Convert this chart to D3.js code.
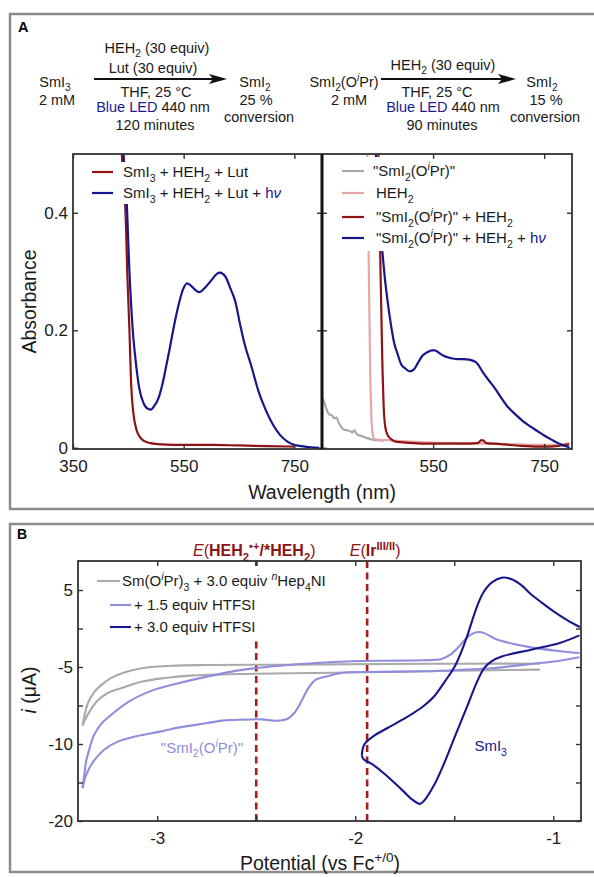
<!DOCTYPE html>
<html>
<head>
<meta charset="utf-8">
<script src="https://cdn.jsdelivr.net/npm/d3@7"></script>
<style>
  body { margin: 0; background: #fff; }
  svg { display: block; font-family: "Liberation Sans", Arial, sans-serif; }
  .axis line { stroke: #333; stroke-width: 1.4; }
  .axis text { font-family: "Liberation Sans", Arial, sans-serif; font-size: 17px; fill: #1a1a1a; }
</style>
</head>
<body>
<svg id="fig" width="594" height="877"></svg>
<script>
// colours
var RED = '#8c1414', NAVY = '#17178c', GRAY = '#aaaaaa', PINK = '#e6a6a6', PURPLE = '#8e8edc', EDASH = '#a31d1d';

// ---- Panel A data: wavelength (nm) / absorbance ----
// left: SmI3 + HEH2 + Lut
var wlRedL  = [437, 440, 443.5, 446, 448, 450, 452, 455, 459, 465, 472, 480, 490, 510, 550, 600, 650, 700, 750];
var absRedL = [0.52, 0.47, 0.43, 0.37, 0.30, 0.25, 0.20, 0.11, 0.06, 0.03, 0.017, 0.011, 0.008, 0.006, 0.005, 0.005, 0.004, 0.003, 0.002];
// left: SmI3 + HEH2 + Lut + hv
var wlBlueL  = [440, 442, 446.5, 452, 458, 463, 470, 478, 486, 491, 496, 505, 512, 518, 525, 531, 540, 549, 556, 562, 572, 578, 588, 600, 610, 615, 625, 635, 643, 652, 660, 672, 685, 698, 711, 724, 737, 750, 763, 780, 795];
var absBlueL = [0.52, 0.49, 0.43, 0.30, 0.20, 0.15, 0.10, 0.075, 0.066, 0.065, 0.07, 0.086, 0.11, 0.137, 0.17, 0.20, 0.24, 0.27, 0.28, 0.277, 0.268, 0.265, 0.272, 0.285, 0.296, 0.298, 0.292, 0.27, 0.25, 0.21, 0.177, 0.14, 0.097, 0.065, 0.04, 0.022, 0.011, 0.005, 0.003, 0.001, 0.0];
// right: "SmI2(OiPr)"
var wlGrayR  = [350, 354, 358, 363, 368, 372, 376, 380, 385, 389, 395, 401, 405, 408, 412, 421, 430, 440, 450, 462];
var absGrayR = [0.085, 0.078, 0.066, 0.057, 0.055, 0.05, 0.052, 0.043, 0.035, 0.031, 0.03, 0.028, 0.026, 0.03, 0.024, 0.02, 0.017, 0.014, 0.013, 0.012];
// right: HEH2
var wlPinkR  = [431, 433, 435, 437, 439, 441, 444, 450, 470, 500, 550, 600, 650, 700, 750, 780, 795];
var absPinkR = [0.52, 0.40, 0.25, 0.12, 0.05, 0.025, 0.015, 0.014, 0.013, 0.011, 0.009, 0.008, 0.007, 0.006, 0.005, 0.006, 0.008];
// right: "SmI2(OiPr)" + HEH2
var wlRedR  = [451, 453, 455, 457, 459, 461, 464, 468, 473, 485, 500, 550, 600, 630, 637, 641, 646, 660, 700, 740, 760, 780, 795];
var absRedR = [0.52, 0.42, 0.32, 0.22, 0.13, 0.07, 0.035, 0.022, 0.016, 0.01, 0.009, 0.007, 0.007, 0.008, 0.013, 0.012, 0.008, 0.007, 0.004, 0.002, 0.002, 0.004, 0.006];
// right: "SmI2(OiPr)" + HEH2 + hv
var wlBlueR  = [446, 449, 452, 456, 459, 463, 468, 474, 480, 486, 492, 500, 508, 515, 523, 531, 540, 548, 553, 560, 568, 576, 585, 595, 605, 615, 627, 640, 650, 660, 672, 685, 698, 711, 724, 737, 750, 763, 775, 785, 795];
var absBlueR = [0.52, 0.46, 0.41, 0.36, 0.33, 0.29, 0.25, 0.21, 0.178, 0.16, 0.143, 0.135, 0.13, 0.133, 0.145, 0.157, 0.163, 0.166, 0.166, 0.162, 0.157, 0.154, 0.152, 0.151, 0.151, 0.15, 0.146, 0.128, 0.115, 0.103, 0.086, 0.069, 0.057, 0.046, 0.037, 0.029, 0.021, 0.014, 0.008, 0.004, 0.001];

var xTicksA = [350, 550, 750];
var yTicksA = [0, 0.2, 0.4];

// ---- Panel B data: potential (V vs Fc) / current (uA) ----
var grayUpE = [-3.377, -3.368, -3.35, -3.322, -3.286, -3.232, -3.159, -3.069, -2.924, -2.743, -2.38, -1.837, -1.475, -1.067];
var grayUpI = [-8.79, -8.2, -7.34, -6.69, -6.21, -5.71, -5.32, -5.06, -4.83, -4.74, -4.7, -4.61, -4.57, -4.57];
var grayDnE = [-1.067, -1.475, -1.837, -2.199, -2.562, -2.833, -2.96, -3.069, -3.178, -3.25, -3.304, -3.341, -3.368, -3.377];
var grayDnI = [-5.17, -5.24, -5.32, -5.39, -5.45, -5.56, -5.71, -5.93, -6.36, -6.69, -7.23, -7.88, -8.53, -8.79];

var purpUpE = [-3.377, -3.368, -3.359, -3.341, -3.322, -3.286, -3.232, -3.141, -3.014, -2.924, -2.743, -2.562, -2.38, -2.199, -2.018, -1.837, -1.656, -1.565, -1.52, -1.475, -1.438, -1.402, -1.375, -1.348, -1.294, -1.221, -1.112, -0.986, -0.868];
var purpUpI = [-15.74, -14.0, -12.26, -10.52, -9.5, -8.74, -8.1, -7.23, -6.47, -6.15, -5.61, -5.17, -4.83, -4.48, -4.26, -4.18, -4.13, -3.96, -3.4, -2.32, -1.23, -0.6, -0.45, -0.6, -1.32, -1.88, -2.45, -2.88, -3.18];
var purpDnE = [-0.868, -0.967, -1.112, -1.294, -1.475, -1.656, -1.928, -2.072, -2.145, -2.199, -2.236, -2.272, -2.308, -2.344, -2.38, -2.417, -2.471, -2.562, -2.67, -2.797, -2.888, -2.978, -3.105, -3.196, -3.268, -3.322, -3.359, -3.377];
var purpDnI = [-3.74, -4.18, -4.61, -5.06, -5.19, -5.28, -5.32, -5.39, -5.61, -5.82, -6.36, -7.23, -7.99, -8.38, -8.48, -8.48, -8.4, -8.42, -8.48, -8.74, -8.92, -9.18, -9.5, -9.83, -10.74, -12.26, -14.0, -15.74];

var blueDnE = [-0.868, -0.967, -1.112, -1.257, -1.312, -1.348, -1.384, -1.438, -1.493, -1.547, -1.601, -1.656, -1.674, -1.71, -1.764, -1.837, -1.909, -1.955, -1.967];
var blueDnI = [-0.89, -1.88, -2.75, -3.61, -4.26, -5.06, -5.93, -7.66, -9.39, -12.26, -15.3, -17.48, -17.78, -17.26, -15.96, -14.22, -12.7, -12.04, -11.5];
var blueUpE = [-1.967, -1.955, -1.909, -1.837, -1.746, -1.656, -1.601, -1.547, -1.493, -1.438, -1.41, -1.38, -1.35, -1.31, -1.26, -1.21, -1.16, -1.117, -1.06, -1.0, -0.93, -0.866];
var blueUpI = [-11.5, -10.09, -9.5, -8.96, -8.31, -7.55, -6.9, -5.93, -4.7, -1.23, 1.0, 3.2, 4.8, 6.0, 6.6, 6.4, 5.6, 4.55, 3.4, 2.27, 1.1, 0.2];

var ePotentials = [-2.5, -1.94];
var xTicksB = [-3, -2.5, -2, -1.5, -1];
var yTicksB = [5, 0, -5, -7.5, -10, -15, -20];
var yTickTextB = ['5', '', '-5', '', '-10', '', '-20'];

// ---- helpers ----
var svg = d3.select('#fig');
function zip(a, b) { return a.map(function(v, i) { return [v, b[i]]; }); }

// text with sub/superscripts, parts are strings or {t, sub, sup, i, b, c}
function richText(parent, x, y, parts, size, anchor, fill) {
  var t = parent.append('text').attr('x', x).attr('y', y)
    .attr('font-size', size).attr('text-anchor', anchor || 'start')
    .attr('fill', fill || '#1a1a1a');
  var shift = 0;
  parts.forEach(function(p) {
    if (typeof p === 'string') p = {t: p};
    var target = p.sub ? 0.3 * size : (p.sup ? -0.4 * size : 0);
    var ts = t.append('tspan').attr('dy', target - shift).text(p.t);
    shift = target;
    if (p.sub || p.sup) ts.attr('font-size', size * 0.7);
    if (p.i) ts.attr('font-style', 'italic');
    if (p.b) ts.attr('font-weight', 'bold');
    if (p.c) ts.attr('fill', p.c);
  });
  return t;
}

function arrow(g, x1, x2, y) {
  g.append('line').attr('x1', x1).attr('x2', x2 - 12).attr('y1', y).attr('y2', y)
    .attr('stroke', '#111').attr('stroke-width', 1.8);
  g.append('path').attr('d', 'M' + x2 + ',' + y + 'L' + (x2 - 18) + ',' + (y - 5) + 'L' + (x2 - 14) + ',' + y + 'L' + (x2 - 18) + ',' + (y + 5) + 'Z')
    .attr('fill', '#111');
}

// panel boxes
svg.append('rect').attr('x', 10).attr('y', 14).attr('width', 590).attr('height', 495)
  .attr('fill', 'none').attr('stroke', '#8c8c8c').attr('stroke-width', 2.5);
svg.append('rect').attr('x', 10).attr('y', 524).attr('width', 590).attr('height', 348)
  .attr('fill', 'none').attr('stroke', '#8c8c8c').attr('stroke-width', 2.5);
svg.append('text').attr('x', 18).attr('y', 32).attr('font-size', 14.5).attr('font-weight', 'bold').text('A');
svg.append('text').attr('x', 17).attr('y', 539).attr('font-size', 14).attr('font-weight', 'bold').text('B');

// ---- Panel A scheme ----
var sch = svg.append('g');
var fs = 14.5;
var iPr = [{t: '(O'}, {t: 'i', sup: true, i: true}, {t: 'Pr)'}];
richText(sch, 157, 53, ['HEH', {t: '2', sub: true}, ' (30 equiv)'], fs, 'middle');
richText(sch, 153, 73, ['Lut (30 equiv)'], fs, 'middle');
arrow(sch, 94, 227, 79);
richText(sch, 55, 87, ['SmI', {t: '3', sub: true}], fs, 'middle');
richText(sch, 57, 105, ['2 mM'], fs, 'middle');
richText(sch, 156, 97, ['THF, 25 °C'], fs, 'middle');
richText(sch, 153, 112, [{t: 'Blue LED', c: '#1c1c90'}, ' 440 nm'], fs, 'middle');
richText(sch, 155, 130, ['120 minutes'], fs, 'middle');
richText(sch, 255, 87, ['SmI', {t: '2', sub: true}], fs, 'middle');
richText(sch, 256, 105, ['25 %'], fs, 'middle');
richText(sch, 259, 122, ['conversion'], fs, 'middle');

richText(sch, 344, 87, ['SmI', {t: '2', sub: true}].concat(iPr), fs, 'middle');
richText(sch, 349, 105, ['2 mM'], fs, 'middle');
arrow(sch, 381, 516, 79);
richText(sch, 443, 70, ['HEH', {t: '2', sub: true}, ' (30 equiv)'], fs, 'middle');
richText(sch, 437, 97, ['THF, 25 °C'], fs, 'middle');
richText(sch, 443, 112, [{t: 'Blue LED', c: '#1c1c90'}, ' 440 nm'], fs, 'middle');
richText(sch, 442, 130, ['90 minutes'], fs, 'middle');
richText(sch, 542, 87, ['SmI', {t: '2', sub: true}], fs, 'middle');
richText(sch, 546, 105, ['15 %'], fs, 'middle');
richText(sch, 545, 122, ['conversion'], fs, 'middle');

// ---- Panel A plots ----
var aTop = 154, aBot = 449, aL = 73, aMid = 322, aR = 572;
var xL = d3.scaleLinear().domain([350, 800]).range([aL, aMid]);
var xR = d3.scaleLinear().domain([350, 800]).range([aMid, aR]);
var yA = d3.scaleLinear().domain([-0.002, 0.5]).range([aBot, aTop]);

var defs = svg.append('defs');
defs.append('clipPath').attr('id', 'clipAL').append('rect')
  .attr('x', aL).attr('y', aTop).attr('width', aMid - aL).attr('height', aBot - aTop);
defs.append('clipPath').attr('id', 'clipAR').append('rect')
  .attr('x', aMid).attr('y', aTop).attr('width', aR - aMid).attr('height', aBot - aTop);

function specLine(x) {
  return d3.line().x(function(d) { return x(d[0]); }).y(function(d) { return yA(d[1]); }).curve(d3.curveMonotoneX);
}
var gAL = svg.append('g').attr('clip-path', 'url(#clipAL)');
[[wlRedL, absRedL, RED], [wlBlueL, absBlueL, NAVY]].forEach(function(s) {
  gAL.append('path').attr('d', specLine(xL)(zip(s[0], s[1])))
    .attr('fill', 'none').attr('stroke', s[2]).attr('stroke-width', 2.2);
});
var gAR = svg.append('g').attr('clip-path', 'url(#clipAR)');
[[wlGrayR, absGrayR, GRAY], [wlPinkR, absPinkR, PINK], [wlRedR, absRedR, RED], [wlBlueR, absBlueR, NAVY]].forEach(function(s) {
  gAR.append('path').attr('d', specLine(xR)(zip(s[0], s[1])))
    .attr('fill', 'none').attr('stroke', s[2]).attr('stroke-width', 2.2);
});

// legends (white backgrounds hide the curves behind)
var legAL = svg.append('g');
legAL.append('rect').attr('x', 85).attr('y', 162).attr('width', 192).attr('height', 42).attr('fill', '#fff');
var hv = [{t: 'h', c: NAVY}, {t: 'ν', c: NAVY, i: true}];
var legAItems = [
  [RED, ['SmI', {t: '3', sub: true}, ' + HEH', {t: '2', sub: true}, ' + Lut']],
  [NAVY, ['SmI', {t: '3', sub: true}, ' + HEH', {t: '2', sub: true}, ' + Lut + '].concat(hv)]
];
legAItems.forEach(function(it, i) {
  var y = 172 + i * 21;
  legAL.append('line').attr('x1', 92).attr('x2', 113).attr('y1', y).attr('y2', y)
    .attr('stroke', it[0]).attr('stroke-width', 2.2);
  richText(legAL, 123, y + 5, it[1], 15);
});

var legAR = svg.append('g');
legAR.append('rect').attr('x', 335).attr('y', 157).attr('width', 232).attr('height', 94).attr('fill', '#fff');
var smOiPr = ['"SmI', {t: '2', sub: true}, '(O', {t: 'i', sup: true, i: true}, 'Pr)"'];
var legARItems = [
  [GRAY, smOiPr, 373],
  [PINK, ['HEH', {t: '2', sub: true}], 376],
  [RED, smOiPr.concat([' + HEH', {t: '2', sub: true}]), 376],
  [NAVY, smOiPr.concat([' + HEH', {t: '2', sub: true}, ' + ']).concat(hv), 376]
];
var legARy = [171, 193, 217, 238];
legARItems.forEach(function(it, i) {
  var y = legARy[i];
  legAR.append('line').attr('x1', 342).attr('x2', 364).attr('y1', y).attr('y2', y)
    .attr('stroke', it[0]).attr('stroke-width', 2.2);
  richText(legAR, it[2], y + 5, it[1], 15);
});

// axes A
function styleAxis(g) { g.attr('class', 'axis'); g.select('.domain').remove(); return g; }
var noLab = function() { return ''; };
styleAxis(svg.append('g').attr('transform', 'translate(0,' + aBot + ')')
  .call(d3.axisBottom(xL).tickValues(xTicksA).tickSizeInner(-5).tickSizeOuter(0).tickPadding(11).tickFormat(d3.format('d'))));
styleAxis(svg.append('g').attr('transform', 'translate(0,' + aTop + ')')
  .call(d3.axisTop(xL).tickValues(xTicksA).tickSizeInner(-5).tickSizeOuter(0).tickFormat(noLab)));
styleAxis(svg.append('g').attr('transform', 'translate(0,' + aBot + ')')
  .call(d3.axisBottom(xR).tickValues(xTicksA.slice(1)).tickSizeInner(-5).tickSizeOuter(0).tickPadding(11).tickFormat(d3.format('d'))));
styleAxis(svg.append('g').attr('transform', 'translate(0,' + aTop + ')')
  .call(d3.axisTop(xR).tickValues(xTicksA.slice(1)).tickSizeInner(-5).tickSizeOuter(0).tickFormat(noLab)));
styleAxis(svg.append('g').attr('transform', 'translate(' + aL + ',0)')
  .call(d3.axisLeft(yA).tickValues(yTicksA).tickSizeInner(-5).tickSizeOuter(0).tickPadding(5)
    .tickFormat(function(d) { return d === 0 ? '0' : d3.format('.1f')(d); })));
styleAxis(svg.append('g').attr('transform', 'translate(' + aMid + ',0)')
  .call(d3.axisRight(yA).tickValues(yTicksA).tickSizeInner(-5).tickSizeOuter(0).tickFormat(noLab)));
styleAxis(svg.append('g').attr('transform', 'translate(' + aMid + ',0)')
  .call(d3.axisLeft(yA).tickValues(yTicksA).tickSizeInner(-5).tickSizeOuter(0).tickFormat(noLab)));
styleAxis(svg.append('g').attr('transform', 'translate(' + aR + ',0)')
  .call(d3.axisRight(yA).tickValues(yTicksA).tickSizeInner(-5).tickSizeOuter(0).tickFormat(noLab)));

svg.append('rect').attr('x', aL).attr('y', aTop).attr('width', aR - aL).attr('height', aBot - aTop)
  .attr('fill', 'none').attr('stroke', '#333').attr('stroke-width', 1.8);
svg.append('line').attr('x1', aMid).attr('x2', aMid).attr('y1', aTop).attr('y2', aBot)
  .attr('stroke', '#111').attr('stroke-width', 3);

svg.append('text').attr('transform', 'translate(36,' + ((aTop + aBot) / 2) + ') rotate(-90)')
  .attr('text-anchor', 'middle').attr('font-size', 19.5).attr('fill', '#1a1a1a').text('Absorbance');
svg.append('text').attr('x', aMid).attr('y', 499).attr('text-anchor', 'middle')
  .attr('font-size', 19.5).attr('fill', '#1a1a1a').text('Wavelength (nm)');

// ---- Panel B: cyclic voltammograms ----
var bTop = 561, bBot = 821, bL = 78, bR = 581;
var xB = d3.scaleLinear().domain([-3.40, -0.86]).range([bL, bR]);
// the original axis is not uniform: equal tick spacing for 5, -5, -10, -20
var yB = d3.scaleLinear().domain([8.77, 5, -5, -10, -20]).range([bTop, 590, 667, 744, bBot]);

defs.append('clipPath').attr('id', 'clipB').append('rect')
  .attr('x', bL).attr('y', bTop).attr('width', bR - bL).attr('height', bBot - bTop);

var cvLine = d3.line().x(function(d) { return xB(d[0]); }).y(function(d) { return yB(d[1]); })
  .curve(d3.curveCatmullRom.alpha(0.5));
var gB = svg.append('g').attr('clip-path', 'url(#clipB)');

// dashed potential markers
ePotentials.forEach(function(e) {
  gB.append('line').attr('x1', xB(e)).attr('x2', xB(e)).attr('y1', bTop).attr('y2', bBot)
    .attr('stroke', EDASH).attr('stroke-width', 2.6).attr('stroke-dasharray', '7,4.5');
});

[[grayUpE, grayUpI, GRAY], [grayDnE, grayDnI, GRAY],
 [purpUpE, purpUpI, PURPLE], [purpDnE, purpDnI, PURPLE],
 [blueDnE, blueDnI, NAVY], [blueUpE, blueUpI, NAVY]].forEach(function(s) {
  gB.append('path').attr('d', cvLine(zip(s[0], s[1])))
    .attr('fill', 'none').attr('stroke', s[2]).attr('stroke-width', 2.1);
});

// legend B
var legB = svg.append('g');
legB.append('rect').attr('x', 85).attr('y', 566).attr('width', 256).attr('height', 74).attr('fill', '#fff');
var legBItems = [
  [GRAY, ['Sm(O', {t: 'i', sup: true, i: true}, 'Pr)', {t: '3', sub: true}, ' + 3.0 equiv ', {t: 'n', sup: true, i: true}, 'Hep', {t: '4', sub: true}, 'NI'], 97, 120, 122],
  [PURPLE, ['+ 1.5 equiv HTFSI'], 110, 131, 134],
  [NAVY, ['+ 3.0 equiv HTFSI'], 110, 131, 134]
];
var legBy = [581, 605, 627];
legBItems.forEach(function(it, i) {
  var y = legBy[i];
  legB.append('line').attr('x1', it[2]).attr('x2', it[3]).attr('y1', y).attr('y2', y)
    .attr('stroke', it[0]).attr('stroke-width', 2.1);
  richText(legB, it[4], y + 5, it[1], 15);
});

// annotations
richText(svg, xB(-2.774), yB(-10.5) + 5, ['"SmI', {t: '2', sub: true}, '(O', {t: 'i', sup: true, i: true}, 'Pr)"'], 15, 'middle', PURPLE);
richText(svg, xB(-1.316), yB(-10.26) + 5, ['SmI', {t: '3', sub: true}], 15, 'middle', NAVY);
richText(svg, xB(ePotentials[0]) - 2, 556, [{t: 'E', i: true}, '(', {t: 'HEH', b: true}, {t: '2', sub: true, b: true}, {t: '•+', sup: true, b: true}, {t: '/*HEH', b: true}, {t: '2', sub: true, b: true}, ')'], 16, 'middle', RED);
richText(svg, xB(ePotentials[1]) + 8, 556, [{t: 'E', i: true}, '(', {t: 'Ir', b: true}, {t: 'III/II', sup: true, b: true}, ')'], 16, 'middle', RED);

// axes B
styleAxis(svg.append('g').attr('transform', 'translate(0,' + bBot + ')')
  .call(d3.axisBottom(xB).tickValues(xTicksB).tickSizeInner(-5).tickSizeOuter(0).tickPadding(11)
    .tickFormat(function(d) { return Number.isInteger(d) ? String(d) : ''; })));
styleAxis(svg.append('g').attr('transform', 'translate(0,' + bTop + ')')
  .call(d3.axisTop(xB).tickValues(xTicksB).tickSizeInner(-5).tickSizeOuter(0).tickFormat(noLab)));
styleAxis(svg.append('g').attr('transform', 'translate(' + bL + ',0)')
  .call(d3.axisLeft(yB).tickValues(yTicksB).tickSizeInner(-5).tickSizeOuter(0).tickPadding(5)
    .tickFormat(function(d, i) { return yTickTextB[i]; })));
styleAxis(svg.append('g').attr('transform', 'translate(' + bR + ',0)')
  .call(d3.axisRight(yB).tickValues(yTicksB).tickSizeInner(-5).tickSizeOuter(0).tickFormat(noLab)));
svg.append('rect').attr('x', bL).attr('y', bTop).attr('width', bR - bL).attr('height', bBot - bTop)
  .attr('fill', 'none').attr('stroke', '#333').attr('stroke-width', 1.8);

var yLab = svg.append('text').attr('transform', 'translate(36,' + 690 + ') rotate(-90)')
  .attr('text-anchor', 'middle').attr('font-size', 19.5).attr('fill', '#1a1a1a');
yLab.append('tspan').attr('font-style', 'italic').text('i');
yLab.append('tspan').text(' (μA)');
richText(svg, 320, 870, ['Potential (vs Fc', {t: '+/0', sup: true}, ')'], 19.5, 'middle');
</script>
</body>
</html>
